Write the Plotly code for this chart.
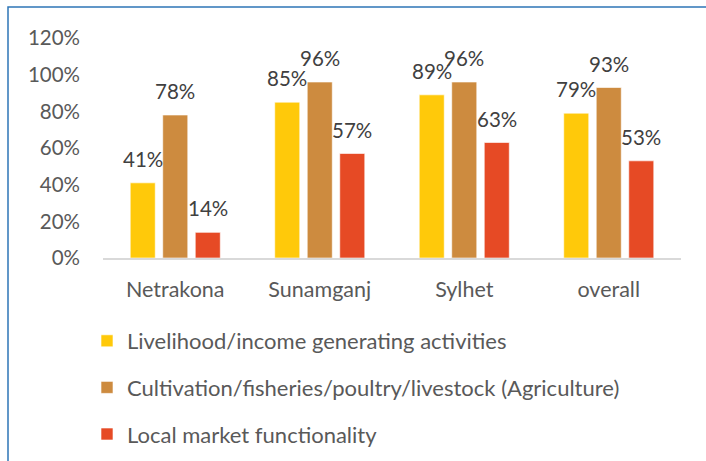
import plotly.graph_objects as go

categories = ["Netrakona", "Sunamganj", "Sylhet", "overall"]
series_names = [
    "Livelihood/income generating activities",
    "Cultivation/fisheries/poultry/livestock (Agriculture)",
    "Local market functionality",
]
livelihood = [0.41, 0.85, 0.89, 0.79]
agriculture = [0.78, 0.96, 0.96, 0.93]
market = [0.14, 0.57, 0.63, 0.53]
tick_vals = [0, 0.2, 0.4, 0.6, 0.8, 1.0, 1.2]
tick_text = ["0%", "20%", "40%", "60%", "80%", "100%", "120%"]

colors = ["#FFC90A", "#CD8B3F", "#E64A25"]
series_values = [livelihood, agriculture, market]

FONT = "Lato"
W, H = 706, 461
L, R, T, B = 103, 25, 38, 203
plot_w = W - L - R
plot_h = H - T - B

fig = go.Figure()
for i, (name, vals) in enumerate(zip(series_names, series_values)):
    fig.add_trace(go.Bar(
        x=categories, y=vals, name=name,
        marker=dict(color=colors[i], line=dict(color="rgba(255,255,255,0.6)", width=1)),
        legendgroup=f"g{i}",
        hoverinfo="skip",
    ))

offsets = [-32.5, 0, 32.5]
annotations = []
for i, vals in enumerate(series_values):
    for c, v in zip(categories, vals):
        annotations.append(dict(
            x=c, y=v, xref="x", yref="y", text=f"{round(v*100)}%",
            showarrow=False, xshift=offsets[i], yshift=24,
            font=dict(family=FONT, size=20.5, color="#404040"),
        ))


def px_to_paper_x(px):
    return (px - L) / plot_w


def px_to_paper_y(py):
    return (H - B - py) / plot_h


shapes = [dict(
    type="rect", xref="paper", yref="paper",
    x0=px_to_paper_x(8), y0=px_to_paper_y(7),
    x1=px_to_paper_x(720), y1=px_to_paper_y(480),
    line=dict(color="#2E75B6", width=1.5), fillcolor="rgba(0,0,0,0)",
    layer="below",
)]

fig.update_layout(
    width=W, height=H,
    margin=dict(l=L, r=R, t=T, b=B, autoexpand=False),
    paper_bgcolor="white", plot_bgcolor="white",
    barmode="group", bargap=0.325, bargroupgap=0.23,
    font=dict(family=FONT, size=21, color="#595959"),
    xaxis=dict(
        showline=True, linecolor="#D9D9D9", linewidth=1.5,
        showgrid=False, ticks="", ticklabelstandoff=11, automargin=False,
        tickfont=dict(family=FONT, size=21.5, color="#595959"),
    ),
    yaxis=dict(
        range=[0, 1.2], tickvals=tick_vals, ticktext=tick_text,
        showgrid=False, zeroline=False, showline=False, ticks="",
        ticklabelstandoff=22, automargin=False,
        tickfont=dict(family=FONT, size=20.5, color="#595959"),
    ),
    legend=dict(
        orientation="v", x=87 / W, xanchor="left", xref="container",
        y=1 - 320 / H, yanchor="top", yref="container",
        font=dict(family=FONT, size=22, color="#595959"),
        tracegroupgap=15, bgcolor="rgba(0,0,0,0)",
    ),
    showlegend=True,
    annotations=annotations,
    shapes=shapes,
)

fig.write_html(
    "out.html",
    config={"displayModeBar": False},
    post_script="document.body.style.margin='0';document.body.style.padding='0';",
)
